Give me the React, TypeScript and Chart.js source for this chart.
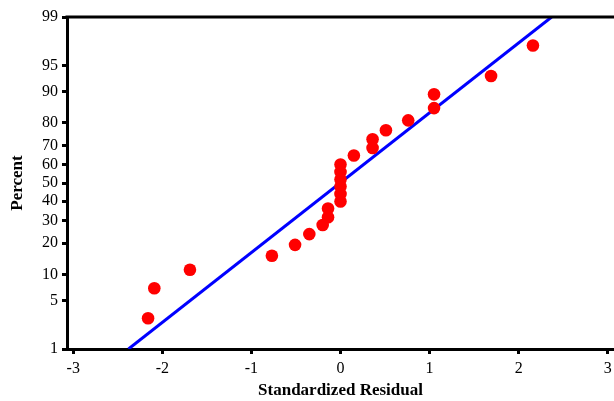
import React, { useEffect, useRef } from "react";
import { Chart, registerables } from "chart.js";

Chart.register(...registerables);

// Standardized residuals (x) and their plotting percents (y)
const residuals = [
  -2.16, -2.09, -1.69, -0.77, -0.51, -0.35, -0.2, -0.14, -0.14,
  0, 0, 0, 0, 0, 0,
  0.15, 0.36, 0.36, 0.51, 0.76, 1.05, 1.05, 1.69, 2.16,
];
const percents = [
  2.9, 7.0, 11.2, 15.4, 19.3, 23.7, 27.8, 31.6, 36.0,
  39.8, 43.9, 48.0, 52.0, 56.1, 60.2,
  65.0, 68.8, 73.0, 77.0, 81.0, 85.3, 89.3, 93.3, 97.3,
];
// Fitted reference line: percent endpoints and their residual values
const fitPercents = [1, 99];
const fitResiduals = [-2.38, 2.37];

const yTickPercents = [1, 5, 10, 20, 30, 40, 50, 60, 70, 80, 90, 95, 99];
const xTickValues = [-3, -2, -1, 0, 1, 2, 3];

// Inverse standard normal CDF (Acklam)
function probit(p: number): number {
  const a = [-3.969683028665376e1, 2.209460984245205e2, -2.759285104469687e2, 1.38357751867269e2, -3.066479806614716e1, 2.506628277459239];
  const b = [-5.447609879822406e1, 1.615858368580409e2, -1.556989798598866e2, 6.680131188771972e1, -1.328068155288572e1];
  const c = [-7.784894002430293e-3, -3.223964580411365e-1, -2.400758277161838, -2.549732539343734, 4.374664141464968, 2.938163982698783];
  const d = [7.784695709041462e-3, 3.224671290700398e-1, 2.445134137142996, 3.754408661907416];
  const pl = 0.02425;
  let q: number, r: number;
  if (p < pl) {
    q = Math.sqrt(-2 * Math.log(p));
    return (((((c[0] * q + c[1]) * q + c[2]) * q + c[3]) * q + c[4]) * q + c[5]) / ((((d[0] * q + d[1]) * q + d[2]) * q + d[3]) * q + 1);
  } else if (p <= 1 - pl) {
    q = p - 0.5;
    r = q * q;
    return (((((a[0] * r + a[1]) * r + a[2]) * r + a[3]) * r + a[4]) * r + a[5]) * q / (((((b[0] * r + b[1]) * r + b[2]) * r + b[3]) * r + b[4]) * r + 1);
  } else {
    q = Math.sqrt(-2 * Math.log(1 - p));
    return -(((((c[0] * q + c[1]) * q + c[2]) * q + c[3]) * q + c[4]) * q + c[5]) / ((((d[0] * q + d[1]) * q + d[2]) * q + d[3]) * q + 1);
  }
}
const z = (pct: number) => probit(pct / 100);

export default function App() {
  const ref = useRef<HTMLCanvasElement | null>(null);
  useEffect(() => {
    if (!ref.current) return;
    const font = "'Liberation Serif', 'Times New Roman', serif";
    const topBorder = {
      id: "topBorder",
      afterDraw(chart: any) {
        const { ctx, chartArea } = chart;
        ctx.save();
        ctx.strokeStyle = "#000";
        ctx.lineWidth = 3;
        ctx.beginPath();
        ctx.moveTo(chartArea.left - 1.5, chartArea.top);
        ctx.lineTo(chartArea.right, chartArea.top);
        ctx.stroke();
        ctx.restore();
      },
    };
    const chart = new Chart(ref.current, {
      type: "scatter",
      data: {
        datasets: [
          {
            type: "scatter",
            data: residuals.map((x, i) => ({ x, y: z(percents[i]) })),
            backgroundColor: "#ff0000",
            borderWidth: 0,
            pointRadius: 6.3,
            order: 1,
          },
          {
            type: "line",
            data: fitResiduals.map((x, i) => ({ x, y: z(fitPercents[i]) })),
            borderColor: "#0000ff",
            borderWidth: 3,
            pointRadius: 0,
            fill: false,
            order: 2,
          } as any,
        ],
      },
      plugins: [topBorder],
      options: {
        animation: false,
        responsive: false,
        maintainAspectRatio: false,
        layout: { autoPadding: false, padding: { top: 17, right: 0, left: 0, bottom: 0 } },
        plugins: { legend: { display: false }, tooltip: { enabled: false } },
        scales: {
          x: {
            type: "linear",
            min: -3.07,
            max: 3.07,
            afterBuildTicks: (s: any) => {
              s.ticks = xTickValues.map((v) => ({ value: v }));
            },
            afterFit: (s: any) => {
              s.height = 52;
              s.paddingLeft = 0;
              s.paddingRight = 0;
            },
            ticks: {
              color: "#000",
              font: { family: font, size: 16 },
              padding: 5,
              autoSkip: false,
              maxRotation: 0,
              callback: (v: any) => String(v),
            },
            grid: { drawOnChartArea: false, drawTicks: true, tickLength: 5, tickColor: "#000", tickWidth: 3 },
            border: { color: "#000", width: 3 },
            title: {
              display: true,
              text: "Standardized Residual",
              color: "#000",
              font: { family: font, size: 17, weight: "bold" },
              padding: { top: 0, bottom: 0 },
            },
          },
          y: {
            type: "linear",
            min: z(1),
            max: z(99),
            afterBuildTicks: (s: any) => {
              s.ticks = yTickPercents.map((p) => ({ value: z(p) }));
            },
            afterFit: (s: any) => {
              s.width = 67;
              s.paddingTop = 0;
              s.paddingBottom = 0;
            },
            ticks: {
              color: "#000",
              font: { family: font, size: 16 },
              padding: 4,
              autoSkip: false,
              callback: (_v: any, i: number) => String(yTickPercents[i]),
            },
            grid: { drawOnChartArea: false, drawTicks: true, tickLength: 5, tickColor: "#000", tickWidth: 3 },
            border: { color: "#000", width: 3 },
            title: {
              display: true,
              text: "Percent",
              color: "#000",
              font: { family: font, size: 17, weight: "bold" },
              padding: { top: 7, bottom: 0 },
            },
          },
        },
      },
    });
    return () => chart.destroy();
  }, []);
  return (
    <div style={{ position: "fixed", left: 0, top: 0, width: 614, height: 401, background: "#fff" }}>
      <canvas ref={ref} width={614} height={401} style={{ width: 614, height: 401, display: "block" }} />
    </div>
  );
}
